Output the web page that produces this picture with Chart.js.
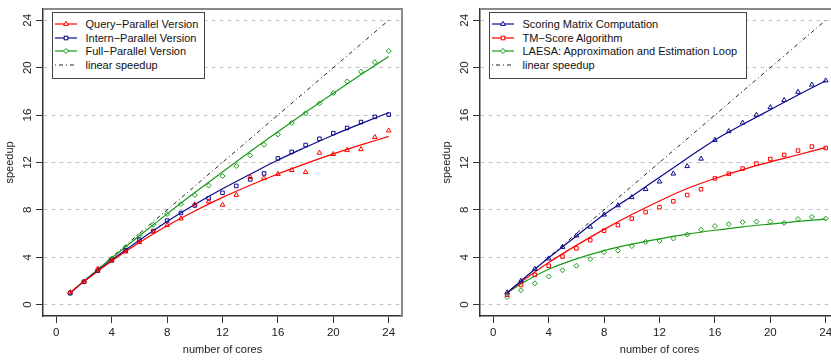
<!DOCTYPE html>
<html>
<head>
<meta charset="utf-8">
<script src="https://cdn.jsdelivr.net/npm/chart.js@4"></script>
<style>
  html, body { margin: 0; padding: 0; background: #fff; width: 831px; height: 361px; overflow: hidden; }
  .panel { position: absolute; top: 0; width: 415px; height: 361px; }
  .legend {
    position: absolute; top: 12px; height: 67px; box-sizing: border-box;
    border: 1.5px solid #444; background: #fff; z-index: 2;
    font: 11px "Liberation Sans", Arial, sans-serif; color: #111; padding-top: 4.8px;
  }
  .legend .row { height: 13.4px; display: flex; align-items: center; white-space: nowrap; }
  .legend svg { margin-left: 1.5px; margin-right: 9px; flex: none; }
</style>
</head>
<body>
<div class="panel" style="left:0px"><canvas id="leftChart" width="415" height="361"></canvas></div>
<div class="panel" style="left:437px"><canvas id="rightChart" width="415" height="361"></canvas></div>
<div class="legend" id="leftLegend" style="left:52px; width:153px"></div>
<div class="legend" id="rightLegend" style="left:489px; width:258px"></div>

<script>
// =================== DATA ===================
const cores = [1, 2, 3, 4, 5, 6, 7, 8, 9, 10, 11, 12, 13, 14, 15, 16, 17, 18, 19, 20, 21, 22, 23, 24];
const fitCores = [1, 2, 4, 6, 8, 10, 12, 14, 16, 18, 20, 22, 24];
const axisTicks = [0, 4, 8, 12, 16, 20, 24];
const linearX = [1, 24];
const linearY = [1, 24];

// left panel
const queryPts = [1.04, 1.93, 3.03, 3.73, 4.47, 5.27, 6.16, 6.71, 7.26, 8.45, 8.70, 8.42, 9.25, 10.75, 10.69, 11.02, 11.35, 11.18, 12.81, 12.70, 13.03, 13.11, 14.13, 14.69];
const internPts = [0.97, 1.93, 2.87, 3.73, 4.58, 5.47, 6.21, 7.09, 7.73, 8.37, 8.97, 9.44, 10.02, 10.57, 11.07, 12.34, 12.89, 13.47, 14.0, 14.47, 14.91, 15.41, 15.85, 16.04];
const fullPts = [0.96, 1.93, 2.92, 3.89, 4.83, 5.82, 6.74, 7.65, 8.48, 9.25, 10.05, 10.85, 11.7, 12.59, 13.5, 14.36, 15.33, 16.15, 16.98, 17.86, 18.83, 19.66, 20.46, 21.4];
const queryFit = [1.0, 1.94, 3.68, 5.24, 6.65, 7.9, 9.05, 10.08, 11.03, 11.9, 12.72, 13.48, 14.2];
const internFit = [1.0, 1.96, 3.77, 5.44, 7.02, 8.45, 9.78, 11.0, 12.2, 13.28, 14.32, 15.28, 16.2];
const fullFit = [1.0, 1.99, 3.93, 5.82, 7.66, 9.46, 11.2, 12.93, 14.6, 16.24, 17.84, 19.42, 20.95];

// right panel
const scoringPts = [1.02, 2.01, 3.01, 3.89, 4.86, 5.82, 6.57, 7.59, 8.37, 9.06, 9.74, 10.38, 11.05, 11.68, 12.31, 13.89, 14.63, 15.35, 16.01, 16.65, 17.26, 17.95, 18.56, 18.91];
const tmPts = [0.83, 1.66, 2.51, 3.28, 4.06, 4.75, 5.44, 6.24, 6.71, 7.26, 7.81, 8.23, 8.72, 9.25, 9.74, 10.65, 11.04, 11.48, 11.9, 12.29, 12.64, 13.0, 13.34, 13.22];
const laesaPts = [0.63, 1.21, 1.79, 2.37, 2.9, 3.28, 3.84, 4.42, 4.56, 4.94, 5.3, 5.38, 5.58, 5.91, 6.32, 6.63, 6.79, 6.96, 7.01, 7.01, 6.9, 7.23, 7.4, 7.26];
const scoringFit = [1.0, 2.0, 3.95, 5.8, 7.6, 9.15, 10.75, 12.35, 13.9, 15.2, 16.45, 17.7, 18.9];
const tmFit = [1.0, 1.9, 3.55, 5.0, 6.35, 7.6, 8.75, 9.8, 10.65, 11.4, 12.05, 12.65, 13.25];
const laesaFit = [1.0, 1.75, 2.98, 3.86, 4.56, 5.1, 5.55, 5.95, 6.28, 6.57, 6.8, 7.02, 7.22];

// =================== STYLE ===================
const RED = "#ff0000";
const BLUE = "#0a0a8c";
const GREEN = "#169b16";
const FONT = "'Liberation Sans', Arial, sans-serif";

const leftSeries = [
  { label: "Query\u2212Parallel Version", color: RED, marker: "triangle", pts: queryPts, fit: queryFit },
  { label: "Intern\u2212Parallel Version", color: BLUE, marker: "rect", pts: internPts, fit: internFit },
  { label: "Full\u2212Parallel Version", color: GREEN, marker: "rectRot", pts: fullPts, fit: fullFit },
];
const rightSeries = [
  { label: "Scoring Matrix Computation", color: BLUE, marker: "triangle", pts: scoringPts, fit: scoringFit },
  { label: "TM\u2212Score Algorithm", color: RED, marker: "rect", pts: tmPts, fit: tmFit },
  { label: "LAESA: Approximation and Estimation Loop", color: GREEN, marker: "rectRot", pts: laesaPts, fit: laesaFit },
];

// =================== HELPERS ===================
function pairs(xs, ys) {
  return xs.map((x, i) => ({ x, y: ys[i] }));
}

// grey top/right edges of the plot box (left/bottom come from the axes)
const boxEdges = {
  id: "boxEdges",
  afterDraw(chart) {
    const { ctx, chartArea: a } = chart;
    ctx.save();
    ctx.strokeStyle = "#8a8a8a";
    ctx.lineWidth = 2;
    ctx.beginPath();
    ctx.moveTo(a.left, a.top);
    ctx.lineTo(a.right, a.top);
    ctx.lineTo(a.right, a.bottom);
    ctx.stroke();
    ctx.restore();
  },
};

function buildDatasets(series) {
  const ds = [];
  series.forEach((s) => {
    ds.push({
      data: pairs(fitCores, s.fit),
      showLine: true,
      borderColor: s.color,
      borderWidth: 1.2,
      pointRadius: 0,
      cubicInterpolationMode: "monotone",
    });
    ds.push({
      data: pairs(cores, s.pts),
      showLine: false,
      pointStyle: s.marker,
      pointRadius: s.marker === "triangle" ? 2.7 : 2.5,
      pointBorderWidth: 1,
      pointBorderColor: s.color,
      pointBackgroundColor: "rgba(255,255,255,0)",
    });
  });
  ds.push({
    data: pairs(linearX, linearY),
    showLine: true,
    borderColor: "#222",
    borderWidth: 1,
    borderDash: [1, 3, 4, 3],
    pointRadius: 0,
  });
  return ds;
}

function setTicks(scale) {
  scale.ticks = axisTicks.map((v) => ({ value: v }));
}

function makeChart(id, series) {
  return new Chart(document.getElementById(id), {
    type: "scatter",
    data: { datasets: buildDatasets(series) },
    plugins: [boxEdges],
    options: {
      responsive: false,
      animation: false,
      layout: { padding: { top: 3, right: 13, left: 0, bottom: 0 } },
      plugins: { legend: { display: false }, tooltip: { enabled: false } },
      scales: {
        x: {
          min: -0.96,
          max: 24.96,
          afterBuildTicks: setTicks,
          afterFit: (s) => { s.height = 45; },
          grid: { drawOnChartArea: false, tickLength: 7, tickColor: "#333", tickWidth: 1 },
          border: { color: "#333", width: 1.5 },
          ticks: { color: "#222", padding: 3, font: { family: FONT, size: 11.5 } },
          title: { display: true, text: "number of cores", color: "#222", padding: { top: 0, bottom: 4.5 }, font: { family: FONT, size: 11 } },
        },
        y: {
          min: -0.96,
          max: 24.96,
          afterBuildTicks: setTicks,
          afterFit: (s) => { s.width = 43; },
          grid: { color: "#c4c4c4", lineWidth: 1, tickLength: 7, tickColor: "#333", tickWidth: 1, tickBorderDash: [] },
          border: { color: "#333", width: 1.5, dash: [4, 4] },
          ticks: { color: "#222", padding: 2, minRotation: 90, maxRotation: 90, crossAlign: "center", font: { family: FONT, size: 11.5 } },
          title: { display: true, text: "speedup", color: "#222", padding: { top: 3, bottom: 0 }, font: { family: FONT, size: 11 } },
        },
      },
    },
  });
}

function markerSvg(marker, color) {
  let shape = "";
  if (marker === "triangle") shape = `<polygon points="11,2.3 13.4,6.4 8.6,6.4" fill="#fff" stroke="${color}" stroke-width="1"/>`;
  else if (marker === "rect") shape = `<rect x="9.2" y="3.2" width="3.6" height="3.6" fill="#fff" stroke="${color}" stroke-width="1"/>`;
  else if (marker === "rectRot") shape = `<polygon points="11,2.4 13.6,5 11,7.6 8.4,5" fill="#fff" stroke="${color}" stroke-width="1"/>`;
  return shape;
}

function renderLegend(elId, series) {
  const el = document.getElementById(elId);
  let html = "";
  series.forEach((s) => {
    html += `<div class="row"><svg width="22" height="10"><line x1="0" y1="5" x2="22" y2="5" stroke="${s.color}" stroke-width="1.2"/>${markerSvg(s.marker, s.color)}</svg><span>${s.label}</span></div>`;
  });
  html += `<div class="row"><svg width="22" height="10"><line x1="0" y1="5" x2="22" y2="5" stroke="#222" stroke-width="1" stroke-dasharray="1 3 4 3"/></svg><span>linear speedup</span></div>`;
  el.innerHTML = html;
}

// =================== INIT ===================
makeChart("leftChart", leftSeries);
makeChart("rightChart", rightSeries);
renderLegend("leftLegend", leftSeries);
renderLegend("rightLegend", rightSeries);
</script>
</body>
</html>
